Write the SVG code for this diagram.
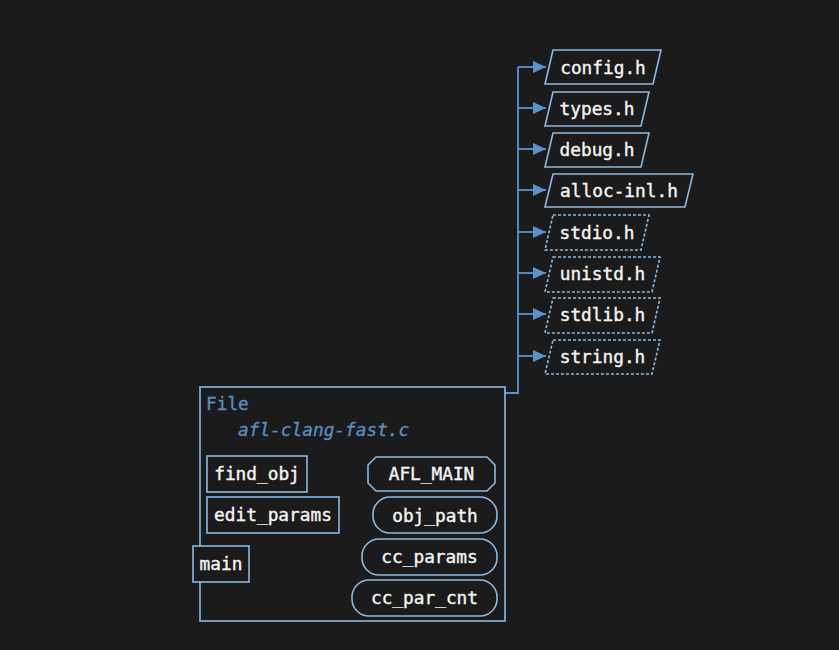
<svg xmlns="http://www.w3.org/2000/svg" width="839" height="650" viewBox="0 0 839 650">
<defs>
<marker id="arr" markerWidth="13" markerHeight="12" refX="13" refY="6" orient="auto" markerUnits="userSpaceOnUse">
<path d="M0,0 L13,6 L0,12 Z" fill="#5a93cc"/>
</marker>
<style>
.n{fill:#1b1b1b;stroke:#8bb9e0;stroke-width:1.6}
.d{fill:#1b1b1b;stroke:#8bb9e0;stroke-width:1.6;stroke-dasharray:3 2}
.t{font-family:"DejaVu Sans Mono","Liberation Mono",monospace;font-size:17.8px;fill:#f4f4f4;stroke:#f4f4f4;stroke-width:0.4;text-anchor:middle;dominant-baseline:central}
.c{fill:none;stroke:#5a93cc;stroke-width:1.8}
.lbl{font-family:"DejaVu Sans Mono","Liberation Mono",monospace;font-size:17.8px;fill:#5a8fc4;stroke:#5a8fc4;stroke-width:0.3}
</style>
</defs>
<rect width="839" height="650" fill="#1b1b1b"/>
<g id="connectors">
<path class="c" d="M505,393 H518 V67"/>
<path class="c" d="M518,67 H546" marker-end="url(#arr)"/>
<path class="c" d="M518,108 H546" marker-end="url(#arr)"/>
<path class="c" d="M518,149 H546" marker-end="url(#arr)"/>
<path class="c" d="M518,190 H546" marker-end="url(#arr)"/>
<path class="c" d="M518,232 H546" marker-end="url(#arr)"/>
<path class="c" d="M518,273 H546" marker-end="url(#arr)"/>
<path class="c" d="M518,314 H546" marker-end="url(#arr)"/>
<path class="c" d="M518,356 H546" marker-end="url(#arr)"/>
</g>
<g id="file">
<rect class="n" x="200" y="387" width="305" height="234"/>
<text class="lbl" x="206" y="410">File</text>
<text class="lbl" x="238" y="436" font-style="italic">afl-clang-fast.c</text>
</g>
<g id="find_obj"><rect class="n" x="207" y="456" width="100" height="36"/><text class="t" x="257" y="473">find_obj</text></g>
<g id="edit_params"><rect class="n" x="207" y="497" width="132" height="36"/><text class="t" x="273" y="514">edit_params</text></g>
<g id="main"><rect class="n" x="193" y="546" width="56" height="36"/><text class="t" x="221" y="563">main</text></g>
<g id="AFL_MAIN"><path class="n" d="M376,457 H487 L495,465 V483 L487,491 H376 L368,483 V465 Z"/><text class="t" x="431.5" y="473">AFL_MAIN</text></g>
<g id="obj_path"><rect class="n" x="373" y="497" width="124" height="36" rx="17"/><text class="t" x="435" y="515">obj_path</text></g>
<g id="cc_params"><rect class="n" x="362" y="539" width="135" height="36" rx="17"/><text class="t" x="429.5" y="556">cc_params</text></g>
<g id="cc_par_cnt"><rect class="n" x="352" y="580" width="145" height="36" rx="17"/><text class="t" x="424.5" y="597">cc_par_cnt</text></g>
<g id="config"><path class="n" d="M553,50 H661 L653,84 H545 Z"/><text class="t" x="603" y="67">config.h</text></g>
<g id="types"><path class="n" d="M553,92 H649 L641,126 H545 Z"/><text class="t" x="597" y="108">types.h</text></g>
<g id="debug"><path class="n" d="M553,133 H649 L641,167 H545 Z"/><text class="t" x="597" y="149">debug.h</text></g>
<g id="alloc"><path class="n" d="M553,174 H693 L685,207 H545 Z"/><text class="t" x="619" y="190">alloc-inl.h</text></g>
<g id="stdio"><path class="d" d="M553,215 H649 L641,250 H545 Z"/><text class="t" x="597" y="232">stdio.h</text></g>
<g id="unistd"><path class="d" d="M553,257 H660 L652,292 H545 Z"/><text class="t" x="602.5" y="273">unistd.h</text></g>
<g id="stdlib"><path class="d" d="M553,298 H660 L652,333 H545 Z"/><text class="t" x="602.5" y="314">stdlib.h</text></g>
<g id="string"><path class="d" d="M553,340 H660 L652,374 H545 Z"/><text class="t" x="602.5" y="356">string.h</text></g>
</svg>
